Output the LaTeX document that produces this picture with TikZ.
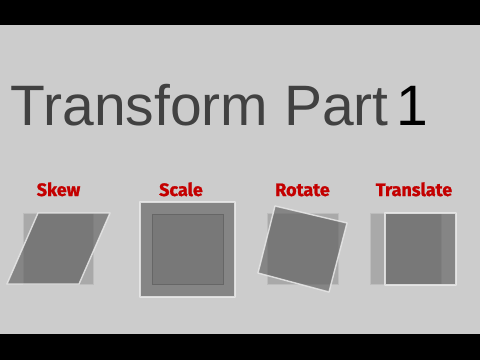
\documentclass[tikz,border=0pt]{standalone}
\usepackage{fontspec}
\setmainfont{Liberation Sans}
\newfontfamily\labelfont[BoldFeatures={FakeBold=1.2}]{Fira Sans}
\definecolor{pagegray}{HTML}{CCCCCC}
\definecolor{origgray}{HTML}{A9A9A9}
\definecolor{origedge}{HTML}{BDBDBD}
\definecolor{shapegray}{HTML}{595959}
\definecolor{edgewhite}{HTML}{EAEAEA}
\definecolor{labelred}{HTML}{C40000}
\definecolor{titlegray}{HTML}{414141}
\begin{document}
\begin{tikzpicture}[x=1pt,y=-1pt,
  origsq/.style={fill=origgray, draw=origedge, line width=1pt},
  moved/.style={fill=shapegray, fill opacity=0.61, draw=edgewhite, draw opacity=0.85, line width=1.4pt, line join=round},
  tfname/.style={font=\labelfont\bfseries\fontsize{18}{21}\selectfont, text=labelred, inner sep=0pt, anchor=base}]
\useasboundingbox (0,0) rectangle (480,360);
% page and letterbox bars
\fill[pagegray] (0,0) rectangle (480,360);
\fill[black] (0,0) rectangle (480,25);
\fill[black] (0,334) rectangle (480,360);

% title
\node[anchor=base west, inner sep=0pt, text=titlegray,
      font=\fontsize{57}{60}\selectfont] (title) at (10.5,125.5)
      {Transform Part};
\node[anchor=base west, inner sep=0pt, text=black,
      font=\fontsize{57}{60}\selectfont] (titlenum) at (396,125.5) {1};

% captions
\node[tfname] (lbl-skew) at (58.5,196) {Skew};
\node[tfname] (lbl-scale) at (181,196) {Scale};
\node[tfname] (lbl-rotate) at (302.5,196) {Rotate};
\node[tfname] (lbl-translate) at (414,196) {Translate};

% Skew
\path[origsq] (23,213) rectangle (93,284);
\path[moved] (38,213) -- (110,213) -- (79,284) -- (7,284) -- cycle;

% Scale
\path[origsq, draw=shapegray!55!origgray] (152,214) rectangle (223,284);
\path[moved] (140,202) rectangle (235,297);

% Rotate
\path[origsq] (267,213) rectangle (338,284);
\path[moved] (275,206) -- (347,223) -- (329,292) -- (258,273) -- cycle;

% Translate
\path[origsq] (370,213) rectangle (441,284);
\path[moved] (385,213) rectangle (456,285);
\end{tikzpicture}
\end{document}
